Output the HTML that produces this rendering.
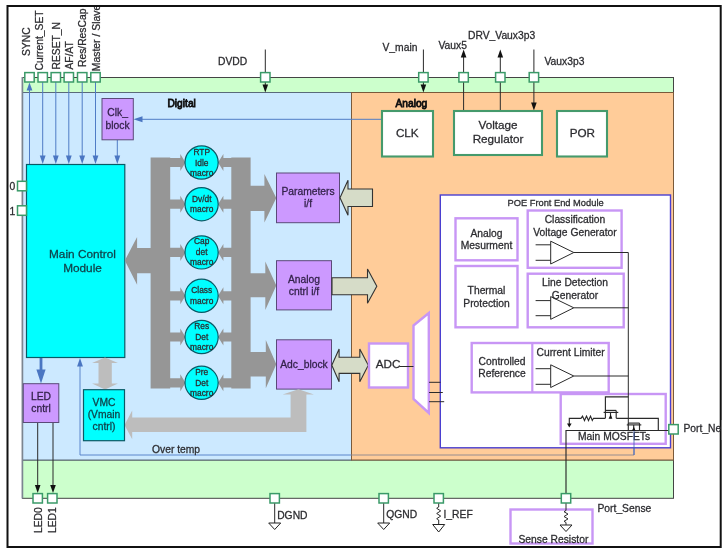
<!DOCTYPE html>
<html>
<head>
<meta charset="utf-8">
<title>PoE Controller Block Diagram</title>
<style>
html,body{margin:0;padding:0;background:#fff;}
body{width:725px;height:554px;overflow:hidden;font-family:"Liberation Sans",sans-serif;}
svg{display:block;filter:blur(0.55px);}
text{font-family:"Liberation Sans",sans-serif;fill:#2c2c30;stroke:#2c2c30;stroke-width:0.28px;}
.t11{font-size:10.3px;}
.t10{font-size:10.3px;}
.t9{font-size:8.4px;}
.t12{font-size:11.8px;}
.t13{font-size:11.7px;}
.mid{text-anchor:middle;}
.oc{fill:#10424a;stroke:#10424a;}
.op{fill:#33224a;stroke:#33224a;}
.b{fill:#111;font-size:10.2px;stroke:#111;stroke-width:0.8px;}
.pin{fill:#fff;stroke:#3a9a68;stroke-width:1.5;}
.gbox{fill:#fff;stroke:#459a6c;stroke-width:2.1;}
.lav{fill:#fff;stroke:#c896f5;stroke-width:2.4;}
.pur{fill:#cc99ff;stroke:#5a4a78;stroke-width:1;}
.cy{fill:#00ffff;stroke:#0a5a66;stroke-width:1.2;}
.bl{stroke:#4f7cc6;stroke-width:1;fill:none;}
.blf{fill:#4a76c2;stroke:none;}
.k{stroke:#2a2a2a;stroke-width:1;fill:none;}
.kf{fill:#111;stroke:none;}
.gr{fill:#969696;stroke:none;}
.lg{fill:#bdbdbd;stroke:none;}
.ga{fill:#d6dcc8;stroke:#333;stroke-width:1.1;stroke-linejoin:miter;}
</style>
</head>
<body>
<svg width="725" height="554" viewBox="0 0 725 554">
<rect x="0" y="0" width="725" height="554" fill="#fff"/>

<!-- top/bottom green bands -->
<rect x="22.5" y="77.5" width="651" height="15" fill="#ccffcc" stroke="#444" stroke-width="1"/>
<rect x="22.5" y="460" width="651" height="38.3" fill="#ccffcc" stroke="#444" stroke-width="1"/>

<!-- digital region -->
<rect x="22.5" y="92.5" width="329" height="367.5" fill="#cce9ff" stroke="#5a6a7a" stroke-width="1"/>
<line x1="22.4" y1="77" x2="22.4" y2="498.5" stroke="#7b8590" stroke-width="1.7"/>
<!-- analog region -->
<rect x="351.5" y="92.5" width="322" height="367.5" fill="#ffcc99" stroke="#7a5a3a" stroke-width="1"/>

<!-- outer black frame -->
<rect x="7.5" y="6" width="713.2" height="541" fill="none" stroke="#111" stroke-width="2"/>

<!-- ===== top pin labels (rotated) ===== -->
<g class="t11" style="stroke-width:0.42px">
<text transform="translate(30,56) rotate(-90)">SYNC</text>
<text transform="translate(42.5,70.5) rotate(-90)">Current_SET</text>
<text transform="translate(60,69.5) rotate(-90)">RESET_N</text>
<text transform="translate(73,69.5) rotate(-90)">AF/AT</text>
<text transform="translate(86,67) rotate(-90)" style="font-size:10.3px">Res/ResCap</text>
<text transform="translate(99.5,71.2) rotate(-90)" style="font-size:10.4px">Master / Slave</text>
</g>

<rect x="85" y="0" width="22" height="5" fill="#fff"/>
<line x1="80" y1="6" x2="112" y2="6" stroke="#111" stroke-width="2"/>
<!-- pin lines (blue) -->
<g class="bl">
<line x1="29.5" y1="164" x2="29.5" y2="88"/>
<line x1="42.7" y1="82" x2="42.7" y2="158"/>
<line x1="55.8" y1="82" x2="55.8" y2="158"/>
<line x1="68.8" y1="82" x2="68.8" y2="158"/>
<line x1="82.2" y1="82" x2="82.2" y2="158"/>
<line x1="95.5" y1="82" x2="95.5" y2="158"/>
<line x1="117.3" y1="140" x2="117.3" y2="158"/>
<line x1="381" y1="119.3" x2="142" y2="119.3"/>
<polyline points="351,455 80,455 80,366" stroke-width="0.9"/>
<line x1="351" y1="455" x2="634" y2="455" stroke="#8a8790" stroke-width="0.9"/>
<line x1="634" y1="455" x2="634" y2="431" stroke-width="0.9"/>
</g>
<g class="blf">
<polygon points="29.5,82.5 26.6,90.5 32.4,90.5"/>
<polygon points="42.7,164 39.8,155.5 45.6,155.5"/>
<polygon points="55.8,164 52.9,155.5 58.7,155.5"/>
<polygon points="68.8,164 65.9,155.5 71.7,155.5"/>
<polygon points="82.2,164 79.3,155.5 85.1,155.5"/>
<polygon points="95.5,164 92.6,155.5 98.4,155.5"/>
<polygon points="117.3,164 114.4,155.5 120.2,155.5"/>
<polygon points="133.5,119.3 142.5,116.3 142.5,122.3"/>
<polygon points="80,358 77.1,366.5 82.9,366.5"/>
<!-- thick arrow main->LED -->
<rect x="39.6" y="357.5" width="2.8" height="13"/>
<polygon points="41,383.5 36.4,369.5 45.6,369.5"/>
</g>

<!-- top pins -->
<g class="pin">
<rect x="24.8" y="72.6" width="9.4" height="9.4"/>
<rect x="38.0" y="72.6" width="9.4" height="9.4"/>
<rect x="51.1" y="72.6" width="9.4" height="9.4"/>
<rect x="64.1" y="72.6" width="9.4" height="9.4"/>
<rect x="77.5" y="72.6" width="9.4" height="9.4"/>
<rect x="90.8" y="72.6" width="9.4" height="9.4"/>
</g>

<!-- DVDD -->
<text class="t11" x="218" y="65.2" >DVDD</text>
<line class="k" x1="265.3" y1="49.5" x2="265.3" y2="86"/>
<polygon class="kf" points="265.3,92.5 262.5,84.5 268.1,84.5"/>
<rect class="pin" x="260.6" y="72.6" width="9.4" height="9.4"/>

<!-- V_main etc -->
<text class="t11" x="382.5" y="50.8">V_main</text>
<line class="k" x1="423.4" y1="49.5" x2="423.4" y2="86"/>
<polygon class="kf" points="423.4,92.5 420.6,84.5 426.2,84.5"/>
<rect class="pin" x="418.7" y="72.6" width="9.4" height="9.4"/>

<text class="t11" x="438.5" y="49">Vaux5</text>
<line class="k" x1="463.6" y1="56" x2="463.6" y2="110.5"/>
<polygon class="kf" points="463.6,49.5 460.8,57.5 466.4,57.5"/>
<rect class="pin" x="458.9" y="72.6" width="9.4" height="9.4"/>

<text class="t11" x="468" y="38.5">DRV_Vaux3p3</text>
<line class="k" x1="500.3" y1="56" x2="500.3" y2="110.5"/>
<polygon class="kf" points="500.3,49.5 497.5,57.5 503.1,57.5"/>
<rect class="pin" x="495.6" y="72.6" width="9.4" height="9.4"/>

<text class="t11" x="544.5" y="64.5">Vaux3p3</text>
<line class="k" x1="533.9" y1="49.5" x2="533.9" y2="104"/>
<polygon class="kf" points="533.9,110.5 531.1,102.5 536.7,102.5"/>
<rect class="pin" x="529.2" y="72.6" width="9.4" height="9.4"/>

<!-- Digital / Analog labels -->
<text class="t11 b" x="167.5" y="106.5">Digital</text>
<text class="t11 b" x="395.5" y="106.5">Analog</text>

<!-- Clk_block -->
<rect class="pur" x="102" y="98.5" width="31.3" height="41.3"/>
<text class="t11 mid op" x="117.6" y="116">Clk_</text>
<text class="t11 mid op" x="117.6" y="129">block</text>

<!-- Main Control Module -->
<rect class="cy" x="26.5" y="164.5" width="98.3" height="193"/>
<text class="t12 mid oc" x="82.5" y="258">Main Control</text>
<text class="t12 mid oc" x="82.5" y="272">Module</text>

<!-- side pins 0/1 -->
<text class="t11" x="9.5" y="190">0</text>
<rect class="pin" x="17.5" y="181.3" width="9" height="9.5"/>
<text class="t11" x="9.5" y="214.5">1</text>
<rect class="pin" x="17.5" y="205.8" width="9" height="9.5"/>

<!-- ===== grey bus structure ===== -->
<g class="gr">
<rect x="150.6" y="157.5" width="19.6" height="231"/>
<rect x="231.3" y="157.5" width="19.3" height="231"/>
<!-- big arrow to main control -->
<polygon points="124.8,260.6 137.1,237 137.1,248 151,248 151,273.2 137.1,273.2 137.1,284.8"/>
<!-- big arrows to right blocks -->
<polygon points="250,185.7 264.4,185.7 264.4,174 276.3,198 264.4,222.4 264.4,210.9 250,210.9"/>
<polygon points="250,273.2 265.3,273.2 265.3,261.4 276.3,285.5 265.3,310 265.3,297.3 250,297.3"/>
<polygon points="250,352 265.8,352 265.8,340 276.3,364.3 265.8,388.3 265.8,376.5 250,376.5"/>
</g>
<!-- small arrows to/from circles -->
<g class="gr">
<polygon points="170,157.9 180.3,157.9 180.3,154.0 185.5,162.5 180.3,171.0 180.3,167.1 170,167.1"/>
<polygon points="232,157.9 223.4,157.9 223.4,154.0 218,162.5 223.4,171.0 223.4,167.1 232,167.1"/>
<polygon points="170,199.6 180.3,199.6 180.3,195.7 185.5,204.2 180.3,212.7 180.3,208.8 170,208.8"/>
<polygon points="232,199.6 223.4,199.6 223.4,195.7 218,204.2 223.4,212.7 223.4,208.8 232,208.8"/>
<polygon points="170,247.8 180.3,247.8 180.3,243.9 185.5,252.4 180.3,260.9 180.3,257.0 170,257.0"/>
<polygon points="232,247.8 223.4,247.8 223.4,243.9 218,252.4 223.4,260.9 223.4,257.0 232,257.0"/>
<polygon points="170,291.2 180.3,291.2 180.3,287.3 185.5,295.8 180.3,304.3 180.3,300.4 170,300.4"/>
<polygon points="232,291.2 223.4,291.2 223.4,287.3 218,295.8 223.4,304.3 223.4,300.4 232,300.4"/>
<polygon points="170,332.4 180.3,332.4 180.3,328.5 185.5,337.0 180.3,345.5 180.3,341.6 170,341.6"/>
<polygon points="232,332.4 223.4,332.4 223.4,328.5 218,337.0 223.4,345.5 223.4,341.6 232,341.6"/>
<polygon points="170,378.2 180.3,378.2 180.3,374.3 185.5,382.8 180.3,391.3 180.3,387.4 170,387.4"/>
<polygon points="232,378.2 223.4,378.2 223.4,374.3 218,382.8 223.4,391.3 223.4,387.4 232,387.4"/>
</g>

<!-- circles -->
<g class="cy">
<circle cx="201.6" cy="162.5" r="16.6"/>
<circle cx="201.6" cy="204.2" r="16.6"/>
<circle cx="201.6" cy="252.4" r="16.6"/>
<circle cx="201.6" cy="295.8" r="16.6"/>
<circle cx="201.6" cy="337" r="16.6"/>
<circle cx="201.6" cy="382.8" r="16.6"/>
</g>
<g class="t9 mid" style="fill:#0b474d">
<text x="201.7" y="154.5">RTP</text><text x="201.7" y="165.5">Idle</text><text x="201.7" y="175.5">macro</text>
<text x="201.7" y="201.6">Dv/dt</text><text x="201.7" y="212.2">macro</text>
<text x="201.7" y="244.4">Cap</text><text x="201.7" y="255.4">det</text><text x="201.7" y="265.4">macro</text>
<text x="201.7" y="293.2">Class</text><text x="201.7" y="303.8">macro</text>
<text x="201.7" y="329.0">Res</text><text x="201.7" y="340.0">Det</text><text x="201.7" y="350.0">macro</text>
<text x="201.7" y="374.8">Pre</text><text x="201.7" y="385.8">Det</text><text x="201.7" y="395.8">macro</text>
</g>

<!-- purple interface blocks -->
<rect class="pur" x="276.5" y="173" width="63" height="49.7"/>
<text class="t11 mid op" x="308" y="194.5">Parameters</text>
<text class="t11 mid op" x="308" y="207.2">i/f</text>
<rect class="pur" x="276.5" y="260.7" width="55" height="49.2"/>
<text class="t11 mid op" x="304" y="282.5">Analog</text>
<text class="t11 mid op" x="304" y="294.8">cntrl i/f</text>
<rect class="pur" x="276.5" y="339.8" width="55" height="49.3"/>
<text class="t11 mid op" x="304" y="368">Adc_block</text>

<!-- grey/green arrows across digital/analog -->
<polygon class="ga" points="340,197.7 348,180.2 348,189 372.5,189 372.5,206.5 348,206.5 348,215.3"/>
<polygon class="ga" points="332,277.7 367.5,277.7 367.5,268.9 376.8,286.2 367.5,303.3 367.5,294.8 332,294.8"/>
<polygon class="ga" points="331.8,365.3 339.1,349 339.1,357.3 359.8,357.3 359.8,349 368.3,365.3 359.8,381.7 359.8,373.4 339.1,373.4 339.1,381.7"/>

<!-- light grey arrows -->
<g class="lg">
<!-- main<->VMC double arrow -->
<polygon points="105,357.5 118,363 111.8,363 111.8,383.5 118,383.5 105,389.5 92,383.5 98.5,383.5 98.5,363 92,363"/>
<!-- ADC block -> VMC L-shaped -->
<polygon points="124.5,425 132.2,410.5 132.2,417.5 290.6,417.5 290.6,394.5 282.6,394.5 298.5,389.3 314,394.5 306.4,394.5 306.4,432 132.2,432 132.2,439.3"/>
</g>

<!-- LED cntrl -->
<rect class="pur" x="23.3" y="383.7" width="35.5" height="38.8"/>
<text class="t11 mid op" x="41" y="400.3">LED</text>
<text class="t11 mid op" x="41" y="412">cntrl</text>
<line class="k" x1="37.7" y1="423" x2="37.7" y2="487"/>
<line class="k" x1="53" y1="423" x2="53" y2="487"/>
<polygon class="kf" points="37.7,493 34.9,485 40.5,485"/>
<polygon class="kf" points="53,493 50.2,485 55.8,485"/>
<rect class="pin" x="33.0" y="493.6" width="9.4" height="9.4"/>
<rect class="pin" x="47.6" y="493.6" width="9.4" height="9.4"/>
<g class="t10">
<text transform="translate(41.5,533) rotate(-90)">LED0</text>
<text transform="translate(56,533) rotate(-90)">LED1</text>
</g>

<!-- VMC -->
<rect class="cy" x="83.5" y="389.7" width="41" height="51"/>
<text class="t11 mid oc" x="104" y="405.5">VMC</text>
<text class="t11 mid oc" x="104" y="417.5">(Vmain</text>
<text class="t11 mid oc" x="104" y="430">cntrl)</text>

<text class="t11" x="152" y="453">Over temp</text>

<!-- ===== Analog side ===== -->
<rect class="gbox" x="382" y="111" width="51" height="45.5"/>
<text class="t13 mid" x="407.3" y="136.7">CLK</text>
<rect class="gbox" x="454" y="111" width="88" height="44"/>
<text class="t13 mid" x="498" y="129.3">Voltage</text>
<text class="t13 mid" x="498" y="142.7">Regulator</text>
<rect class="gbox" x="557" y="111" width="50" height="45.5"/>
<text class="t13 mid" x="582.3" y="136.8">POR</text>

<!-- ADC + mux -->
<rect class="lav" x="369" y="343.5" width="39" height="44"/>
<text class="t13" x="375.8" y="368.2">ADC</text>
<polygon class="lav" points="413.5,325.5 428.8,313 428.8,413 413.5,399"/>
<line class="k" x1="399.5" y1="366.5" x2="413.5" y2="366.5"/>

<!-- POE module -->
<rect x="440.3" y="195" width="230.2" height="252.8" fill="#fff" stroke="#4a3fd0" stroke-width="1.4"/>
<text x="507.5" y="205.8" style="font-size:9.3px">POE Front End Module</text>

<line class="k" x1="429" y1="382.3" x2="440.5" y2="382.3"/>
<line class="k" x1="429" y1="392.5" x2="442.8" y2="392.5"/>
<line class="k" x1="429" y1="401.7" x2="444.2" y2="401.7"/>
<rect class="lav" x="455.5" y="218.3" width="62" height="42"/>
<text class="t10 mid" x="486.5" y="236.5">Analog</text>
<text class="t10 mid" x="486.5" y="249">Mesurment</text>
<rect class="lav" x="455.5" y="266" width="62" height="61.3"/>
<text class="t10 mid" x="486.5" y="294">Thermal</text>
<text class="t10 mid" x="486.5" y="306.5">Protection</text>

<rect class="lav" x="527.7" y="210.5" width="93.9" height="57.3"/>
<text class="t10 mid" x="575" y="223">Classification</text>
<text class="t10 mid" x="575" y="235.5">Voltage Generator</text>
<rect class="lav" x="527.7" y="273.7" width="96" height="53.6"/>
<text class="t10 mid" x="575" y="286">Line Detection</text>
<text class="t10 mid" x="575" y="298.5">Generator</text>

<rect class="lav" x="471.7" y="343" width="137" height="49.4"/>
<line x1="532.3" y1="343" x2="532.3" y2="392.4" stroke="#c896f5" stroke-width="2.2"/>
<text class="t10 mid" x="502" y="364.5">Controlled</text>
<text class="t10 mid" x="502" y="377">Reference</text>
<text class="t10" x="536.5" y="355.5">Current Limiter</text>

<rect class="lav" x="560.7" y="394" width="105" height="49.8"/>
<!-- opamps -->
<g class="k">
<polygon points="550.7,241.2 573.8,252.5 550.7,264"/>
<line x1="535.6" y1="244.8" x2="550.7" y2="244.8"/><line x1="535.6" y1="260.3" x2="550.7" y2="260.3"/>
<polygon points="550.7,296.6 573.8,307.8 550.7,319.3"/>
<line x1="535.6" y1="300.6" x2="550.7" y2="300.6"/><line x1="535.6" y1="315.7" x2="550.7" y2="315.7"/>
<polygon points="550.7,364.8 573.8,376 550.7,387.5"/>
<line x1="535.6" y1="368.7" x2="550.7" y2="368.7"/><line x1="535.6" y1="384.3" x2="550.7" y2="384.3"/>
<polyline points="573.8,252.5 628.3,252.5 628.3,423.5"/>
<line x1="573.8" y1="307.8" x2="628.3" y2="307.8"/>
<line x1="573.8" y1="376" x2="628.3" y2="376"/>
</g>

<!-- Main MOSFETs -->
<text class="t10" x="578" y="439.5">Main MOSFETs</text>
<g class="k" style="stroke-width:1.15">
<polyline points="628.3,396.8 605.4,396.8 605.4,418.3"/>
<line x1="605.4" y1="410.4" x2="616.2" y2="410.4"/>
<line x1="603.6" y1="412.4" x2="618.3" y2="412.4"/>
<line x1="616.2" y1="410.4" x2="616.2" y2="418.3"/>
<line x1="610.5" y1="412.4" x2="610.5" y2="418.3"/>
<polyline points="569.3,424 569.3,418.3 581,418.3 582.5,416.1 584.5,420.5 586.5,416.1 588.5,420.5 590.5,416.1 592.3,420.5 593.5,418.3 605.4,418.3"/>
<polyline points="616.2,418.3 658.3,418.3 658.3,430.5"/>
<line x1="628.3" y1="423" x2="628.3" y2="430.5"/>
<line x1="628.3" y1="423.1" x2="639.5" y2="423.1"/>
<line x1="626.8" y1="424.9" x2="641.3" y2="424.9"/>
<line x1="639.5" y1="423.1" x2="639.5" y2="430.5"/>
<line x1="633.7" y1="424.9" x2="633.7" y2="430.5"/>
<polyline points="566,493 566,430.5 668.5,430.5"/>
</g>
<polygon class="kf" points="569.3,427.5 567,423.5 571.6,423.5"/>
<polygon class="kf" points="608.6,418.7 610.7,414.6 612.4,418.7"/>
<polygon class="kf" points="631.8,430.9 633.9,426.8 635.6,430.9"/>

<polyline points="634,430.7 634,455" fill="none" stroke="#3f5fb8" stroke-width="0.8"/>
<rect class="pin" x="668.8" y="424.6" width="9.4" height="9.4"/>
<text class="t11" x="683.5" y="432">Port_Ne</text>
<!-- cover text past the frame -->
<rect x="721.8" y="420" width="4" height="20" fill="#fff"/>

<!-- bottom pins -->
<rect class="pin" x="270.0" y="493.6" width="9.4" height="9.4"/>
<line class="k" x1="274.7" y1="503.5" x2="274.7" y2="523"/>
<polygon points="268.7,523 280.7,523 274.7,529.5" fill="#fff" stroke="#222" stroke-width="1"/>
<text class="t10" x="277.2" y="518.6">DGND</text>

<rect class="pin" x="379.0" y="493.6" width="9.4" height="9.4"/>
<line class="k" x1="383.7" y1="503.5" x2="383.7" y2="523"/>
<polygon points="377.7,523 389.7,523 383.7,529.5" fill="#fff" stroke="#222" stroke-width="1"/>
<text class="t10" x="386.3" y="518.4">QGND</text>

<rect class="pin" x="434.0" y="493.6" width="9.4" height="9.4"/>
<polyline class="k" points="438.7,503.5 438.7,507 436.7,508.3 440.7,510.9 436.7,513.5 440.7,516.1 436.7,518.7 438.7,520 438.7,524.5"/>
<polygon points="432.7,524.5 444.7,524.5 438.7,532" fill="#fff" stroke="#222" stroke-width="1"/>
<text class="t10" x="443.5" y="518.4">I_REF</text>

<rect class="pin" x="561.3" y="493.6" width="9.4" height="9.4"/>
<rect class="lav" x="510.5" y="509.5" width="82" height="34" style="fill:none"/>
<polyline class="k" points="566,503.5 566,510.5 564,511.7 568,514.1 564,516.5 568,518.9 564,521.3 566,522.5 566,525"/>
<polygon points="560,525 572,525 566,531.5" fill="#fff" stroke="#222" stroke-width="1"/>
<text class="t10" x="518.5" y="543">Sense Resistor</text>
<text class="t11" x="597.5" y="512">Port_Sense</text>

</svg>
</body>
</html>
